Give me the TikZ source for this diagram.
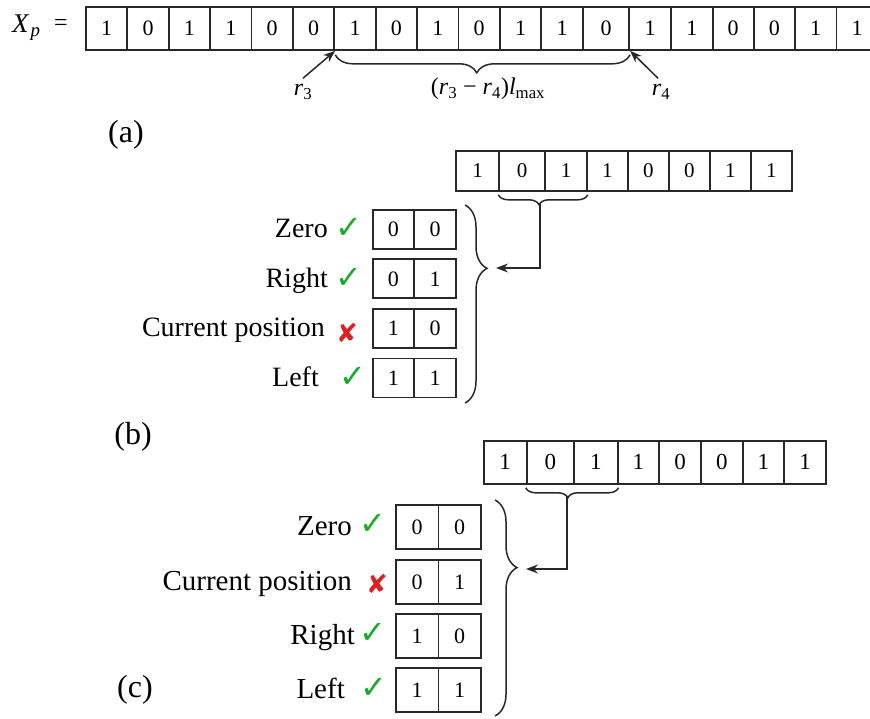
\documentclass[tikz,border=0pt]{standalone}
\usepackage{fontspec}
\setmainfont{Liberation Serif}
\newfontfamily\symfont{DejaVu Sans}
\usetikzlibrary{decorations.pathreplacing,arrows.meta}
\definecolor{okgreen}{RGB}{25,170,45}
\definecolor{badred}{RGB}{215,35,35}
\definecolor{ink}{RGB}{40,40,40}
\begin{document}
\begin{tikzpicture}[x=1pt,y=-1pt,
  cell/.style={draw=ink, line width=1.8pt, inner sep=0pt, anchor=north west, font=\fontsize{22}{22}\selectfont},
  lab/.style={anchor=base east, inner sep=0pt, font=\fontsize{28}{28}\selectfont},
  labc/.style={anchor=base east, inner sep=0pt, font=\fontsize{29}{29}\selectfont},
  okmark/.style={text=okgreen, inner sep=0pt, font=\symfont\fontsize{32}{32}\selectfont},
  badmark/.style={text=badred, inner sep=0pt, font=\symfont\fontsize{26}{26}\selectfont},
  part/.style={font=\fontsize{32}{32}\selectfont, inner sep=0pt},
  brc/.style={draw=ink, line width=1.5pt, decorate},
  arr/.style={draw=ink, line width=1.5pt, -{Stealth[length=12pt,width=9pt]}},
]
\useasboundingbox (0,0) rectangle (870,719);

% ---------- (a) ----------
\node[anchor=base west, inner sep=0pt, font=\fontsize{27}{27}\selectfont] (xp) at (12,33) {\textit{X}\textsubscript{\kern1pt\textit{p}}};
\node[inner sep=0pt, font=\fontsize{24}{24}\selectfont] (eq) at (61,25) {=};
\foreach \a/\b/\v [count=\i] in {85/126.4/1,126.4/167.8/0,167.8/209.2/1,209.2/250.6/1,250.6/292/0,292/333.4/0,333.4/374.8/1,374.8/416.2/0,416.2/457.6/1,457.6/499/0,499/540.4/1,540.4/582/1,582/628.3/0,628.3/670/1,670/711.7/1,711.7/752.7/0,752.7/794/0,794/835.5/1,835.5/877/1}{
  \pgfmathsetmacro\w{\b-\a}
  \node[cell, minimum width=\w pt, minimum height=43pt] (t\i) at (\a,6) {\v};
}
\node[inner sep=1pt, font=\fontsize{24}{24}\selectfont] (r3) at (303,92) {\textit{r}\textsubscript{3}};
\node[inner sep=1pt, font=\fontsize{24}{24}\selectfont] (r4) at (661,92) {\textit{r}\textsubscript{4}};
\node[inner sep=1pt, font=\fontsize{24}{24}\selectfont] (gap) at (488,89) {(\textit{r}\textsubscript{3} − \textit{r}\textsubscript{4})\textit{l}\textsubscript{max}};
\draw[arr] ([yshift=5pt]r3.north) -- (t6.south east);
\draw[arr] ([xshift=-3pt,yshift=5pt]r4.north) -- (t13.south east);
\draw[brc, decoration={brace, mirror, amplitude=18pt, aspect=0.48, raise=4pt}] (t6.south east) -- (t13.south east);
\node[part] (pa) at (126,135) {(a)};

% ---------- (b) ----------
\foreach \a/\b/\v [count=\i] in {455/498.3/1,498.3/544.3/0,544.3/586/1,586/627/1,627/668/0,668/709/0,709/750/1,750/791/1}{
  \pgfmathsetmacro\w{\b-\a}
  \node[cell, font=\fontsize{21}{21}\selectfont, minimum width=\w pt, minimum height=40pt] (b\i) at (\a,150) {\v};
}
\foreach \r/\top/\x/\y in {1/209/0/0,2/258.5/0/1,3/308/1/0,4/357.5/1/1}{
  \node[cell, minimum width=41.7pt, minimum height=39pt] (bb\r a) at (371.7,\top) {\x};
  \node[cell, minimum width=41.7pt, minimum height=39pt] (bb\r b) at (413.4,\top) {\y};
}
\node[lab] (bzero) at (328,238) {Zero};
\node[lab] (bright) at (328,287.5) {Right};
\node[lab] (bcur) at (325,337) {Current position};
\node[lab] (bleft) at (319,386) {Left};
\node[okmark] (bzm) at (349,228) {✓};
\node[okmark] (brm) at (349,278) {✓};
\node[badmark] (bcm) at (347,333) {✘};
\node[okmark] (blm) at (353,377) {✓};
\draw[brc, decoration={brace, mirror, amplitude=10pt, aspect=0.455, raise=3pt}] (b2.south west) -- (b3.south east);
\coordinate (bst) at (540,203);
\coordinate (bbtop) at (465,205);
\coordinate (bbbot) at (465,403);
\coordinate (bbtip) at (496,268);
\draw[brc, decoration={brace, amplitude=22pt, aspect=0.32}] (bbtop) -- (bbbot);
\draw[arr] (bst) |- (bbtip);
\node[part] (pb) at (133,437) {(b)};

% ---------- (c) ----------
\foreach \a/\b/\v [count=\i] in {482.7/525.7/1,525.7/573.3/0,573.3/616.7/1,616.7/658.4/1,658.4/700/0,700/741.7/0,741.7/783.4/1,783.4/825/1}{
  \pgfmathsetmacro\w{\b-\a}
  \node[cell, font=\fontsize{23}{23}\selectfont, minimum width=\w pt, minimum height=43pt] (c\i) at (\a,440) {\v};
}
\foreach \r/\top/\x/\y in {1/504/0/0,2/559/0/1,3/613/1/0,4/667/1/1}{
  \node[cell, minimum width=42.5pt, minimum height=44pt] (cb\r a) at (395,\top) {\x};
  \node[cell, minimum width=42.5pt, minimum height=44pt] (cb\r b) at (437.5,\top) {\y};
}
\node[labc] (czero) at (352,535.5) {Zero};
\node[labc] (ccur) at (352,590.5) {Current position};
\node[labc] (cright) at (355,644.5) {Right};
\node[labc] (cleft) at (345,698.5) {Left};
\node[okmark] (czm) at (373,524) {✓};
\node[badmark] (ccm) at (377,584) {✘};
\node[okmark] (crm) at (373,633) {✓};
\node[okmark] (clm) at (374,688) {✓};
\draw[brc, decoration={brace, mirror, amplitude=10pt, aspect=0.454, raise=3pt}] (c2.south west) -- (c3.south east);
\coordinate (cst) at (567,496);
\coordinate (cbtop) at (495,500);
\coordinate (cbbot) at (495,716);
\coordinate (cbtip) at (526,569);
\draw[brc, decoration={brace, amplitude=22pt, aspect=0.313}] (cbtop) -- (cbbot);
\draw[arr] (cst) |- (cbtip);
\node[part] (pc) at (135,690) {(c)};
\end{tikzpicture}
\end{document}
